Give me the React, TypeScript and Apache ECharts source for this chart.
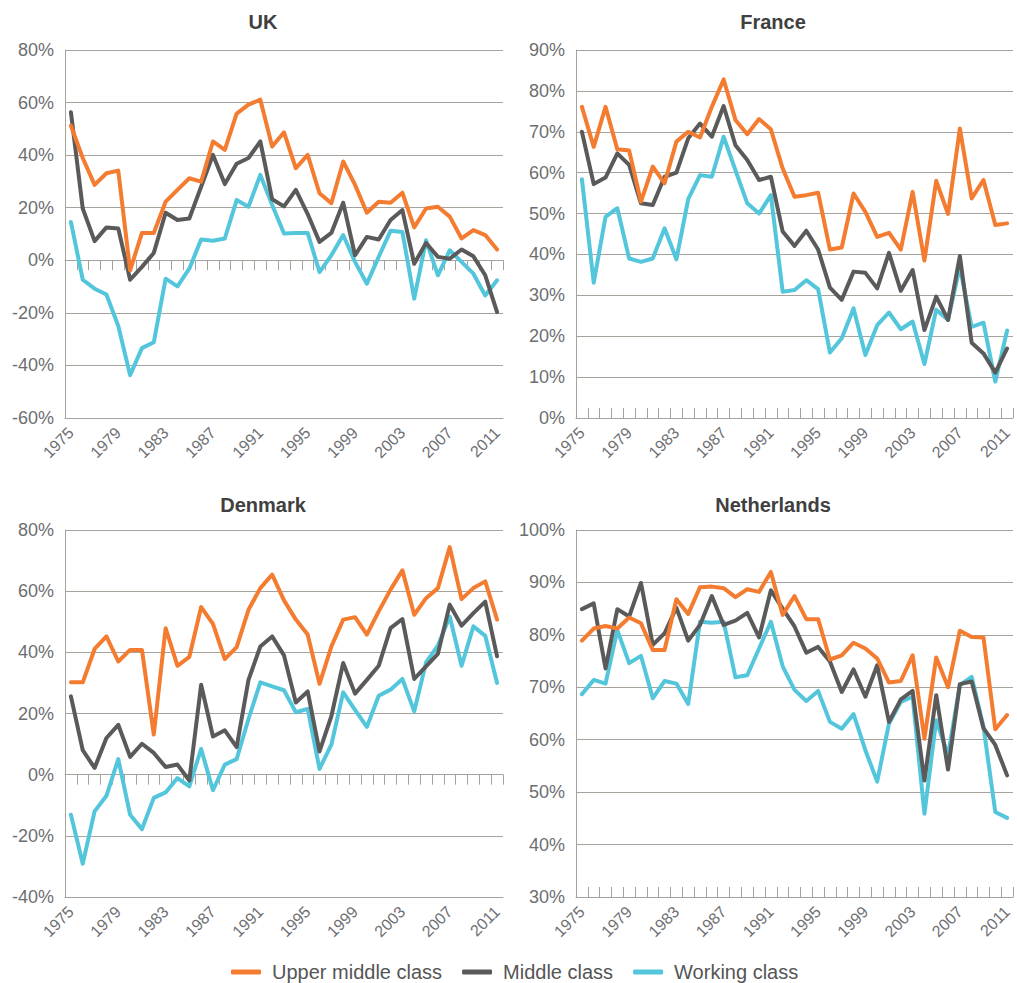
import React, { useEffect, useRef } from 'react';
import * as echarts from 'echarts';

const years = ['1975','1976','1977','1978','1979','1980','1981','1982','1983','1984','1985','1986','1987','1988','1989','1990','1991','1992','1993','1994','1995','1996','1997','1998','1999','2000','2001','2002','2003','2004','2005','2006','2007','2008','2009','2010','2011'];

const seriesNames = ['Upper middle class', 'Middle class', 'Working class'];

const ukUpper = [51.2, 38.9, 28.7, 33.1, 34.1, -3.8, 10.4, 10.4, 22.3, 26.8, 31.2, 29.9, 45.2, 42, 55.8, 59.2, 61.1, 43.3, 48.7, 35, 40.1, 25.5, 21.7, 37.6, 28.7, 18.1, 22.3, 21.9, 25.7, 12.5, 19.7, 20.4, 16.6, 8.3, 11.5, 9.6, 4.1];
const ukMiddle = [56.3, 19.7, 7.3, 12.5, 12.1, -7.4, -2.5, 2.8, 18.1, 15.3, 15.9, 28, 40.1, 29, 36.7, 38.9, 45.2, 23.2, 20.5, 26.8, 17.6, 7, 10.4, 21.9, 1.9, 8.9, 7.9, 15.3, 19.1, -1.3, 6.6, 1.3, 0.6, 4.1, 1.5, -5.7, -19.7];
const ukWorking = [14.6, -7.4, -10.8, -13, -25, -43.7, -33.4, -31.2, -7, -9.9, -3.2, 7.9, 7.4, 8.3, 22.9, 20.4, 32.5, 21, 10.2, 10.4, 10.4, -4.5, 1.9, 9.6, -0.6, -8.9, 1.3, 11.2, 10.8, -14.6, 7.6, -5.7, 3.8, -0.6, -5.1, -13.4, -7.6];

const franceUpper = [76.1, 66.3, 76.1, 65.7, 65.4, 52.9, 61.5, 57.4, 67.6, 70, 68.6, 76.1, 82.8, 72.9, 69.4, 73.1, 70.6, 61, 54.1, 54.5, 55.1, 41.2, 41.7, 54.9, 50.4, 44.3, 45.3, 41.2, 55.3, 38.5, 58, 49.9, 70.8, 53.7, 58.2, 47.2, 47.6];
const franceMiddle = [70, 57.2, 58.8, 64.7, 61.9, 52.5, 52.1, 59, 60, 68.4, 72, 68.8, 76.3, 66.7, 63.1, 58.2, 59, 45.6, 42.1, 45.8, 41.2, 31.9, 28.9, 35.8, 35.5, 31.7, 40.4, 31.1, 36.2, 21.5, 29.7, 24, 39.6, 18.4, 15.8, 11.1, 17];
const franceWorking = [58.4, 33.1, 49.2, 51.3, 39, 38.2, 39, 46.4, 38.8, 53.5, 59.4, 59, 68.8, 60.6, 52.5, 50, 54.5, 30.9, 31.3, 33.7, 31.5, 16, 19.5, 26.8, 15.4, 22.7, 25.8, 21.7, 23.6, 13.2, 26.5, 24, 37, 22.3, 23.3, 8.9, 21.4];

const denmarkUpper = [30.2, 30.2, 41.1, 45.2, 37, 40.8, 40.8, 13.1, 47.9, 35.6, 38.5, 54.8, 49.3, 37.8, 41.7, 53.9, 61, 65.4, 57, 50.7, 45.8, 29.7, 41.9, 50.7, 51.5, 45.8, 53.4, 60.5, 66.8, 52.3, 57.7, 61, 74.4, 57.4, 61, 63.2, 50.7];
const denmarkMiddle = [25.6, 8, 2.2, 12, 16.3, 5.8, 10.1, 7.1, 2.5, 3.3, -1.9, 29.4, 12.5, 14.5, 9, 31, 41.9, 45.2, 39, 23.6, 27.2, 7.6, 19.1, 36.5, 26.5, 31, 35.6, 47.9, 50.9, 31.3, 35.4, 39.5, 55.6, 48.7, 52.8, 56.6, 38.7];
const denmarkWorking = [-13.1, -29.1, -12, -6.9, 5.1, -13.1, -17.8, -7.6, -5.8, -1.1, -3.8, 8.4, -5.1, 3.3, 5.1, 18.2, 30.2, 28.9, 27.6, 20.4, 21.5, 1.9, 9.8, 26.9, 21.2, 15.6, 25.8, 27.8, 31.3, 20.7, 36.7, 42.2, 51.7, 35.6, 48.5, 45.4, 30];

const netherlandsUpper = [78.9, 81.2, 81.7, 81.2, 83.3, 82.2, 77.1, 77.1, 86.8, 84, 89.1, 89.2, 88.9, 87.2, 88.7, 88.2, 92, 83.8, 87.4, 83, 83, 75.3, 76.1, 78.5, 77.4, 75.5, 70.9, 71.2, 76.1, 60.2, 75.7, 70, 80.8, 79.6, 79.5, 62, 64.7];
const netherlandsMiddle = [84.9, 86, 73.6, 84.9, 83.5, 89.9, 78.1, 80.3, 85.2, 78.9, 81.9, 87.4, 81.9, 82.7, 84.2, 79.5, 88.5, 85, 81.6, 76.6, 77.7, 74.9, 69.1, 73.4, 68.2, 74.2, 63.4, 67.7, 69.3, 52.2, 68.5, 54.3, 70.6, 71.1, 62.2, 59, 53.2];
const netherlandsWorking = [68.7, 71.4, 70.7, 80.9, 74.6, 76, 67.9, 71.2, 70.7, 66.8, 82.5, 82.3, 82.5, 71.9, 72.3, 77.4, 82.5, 74, 69.5, 67.4, 69.3, 63.4, 62.1, 64.9, 58, 52, 63.1, 67.2, 68.2, 45.9, 63.7, 57, 70.4, 72, 62.5, 46.2, 45.1];

const colors = ['#f47c30', '#5a5a5a', '#53c6dc'];
const gridColor = '#a8a29d';
const textColor = '#6d6e71';
const fontFamily = '"Liberation Sans", Arial, sans-serif';

const panels = [
  { title: 'UK', titleX: 263, titleY: 22, box: { left: 65, top: 50, width: 438, height: 368 }, min: -60, max: 80, interval: 20, zeroTicks: true, data: [ukUpper, ukMiddle, ukWorking] },
  { title: 'France', titleX: 773, titleY: 22, box: { left: 576, top: 50, width: 437, height: 368 }, min: 0, max: 90, interval: 10, zeroTicks: false, data: [franceUpper, franceMiddle, franceWorking] },
  { title: 'Denmark', titleX: 263, titleY: 505, box: { left: 65, top: 530, width: 438, height: 367 }, min: -40, max: 80, interval: 20, zeroTicks: true, data: [denmarkUpper, denmarkMiddle, denmarkWorking] },
  { title: 'Netherlands', titleX: 773, titleY: 505, box: { left: 576, top: 530, width: 437, height: 367 }, min: 30, max: 100, interval: 10, zeroTicks: false, data: [netherlandsUpper, netherlandsMiddle, netherlandsWorking] },
];

function buildOption() {
  const grid: any[] = [];
  const xAxis: any[] = [];
  const yAxis: any[] = [];
  const series: any[] = [];
  const graphic: any[] = [];

  panels.forEach((p, g) => {
    grid.push({ ...p.box, containLabel: false });
    yAxis.push({
      gridIndex: g,
      type: 'value',
      min: p.min,
      max: p.max,
      interval: p.interval,
      axisLine: { show: true, lineStyle: { color: gridColor, width: 1 } },
      axisTick: { show: false },
      axisLabel: { formatter: '{value}%', color: textColor, fontSize: 18, fontFamily, margin: 11 },
      splitLine: { show: true, lineStyle: { color: gridColor, width: 1 } },
    });
    const labelAxisIndex = xAxis.length;
    xAxis.push({
      gridIndex: g,
      type: 'category',
      data: years,
      boundaryGap: true,
      position: 'bottom',
      axisLine: { show: true, onZero: false, lineStyle: { color: gridColor, width: 1 } },
      axisTick: { show: !p.zeroTicks, inside: true, length: 10, interval: 0, lineStyle: { color: gridColor } },
      axisLabel: { interval: 3, rotate: 45, color: textColor, fontSize: 16, fontFamily, margin: 12 },
      splitLine: { show: false },
    });
    if (p.zeroTicks) {
      xAxis.push({
        gridIndex: g,
        type: 'category',
        data: years,
        boundaryGap: true,
        position: 'top',
        axisLine: { show: true, onZero: true, lineStyle: { color: gridColor, width: 1 } },
        axisTick: { show: true, inside: true, length: 10, interval: 0, lineStyle: { color: gridColor } },
        axisLabel: { show: false },
        splitLine: { show: false },
      });
    }
    // draw working class first, upper middle class last (on top)
    [2, 1, 0].forEach((k) => {
      series.push({
        type: 'line',
        name: seriesNames[k],
        xAxisIndex: labelAxisIndex,
        yAxisIndex: g,
        data: p.data[k],
        showSymbol: false,
        symbol: 'none',
        lineStyle: { width: 4, color: colors[k], cap: 'round', join: 'round' },
        itemStyle: { color: colors[k] },
        emphasis: { disabled: true },
      });
    });
    graphic.push({
      type: 'text',
      x: p.titleX,
      y: p.titleY,
      style: {
        text: p.title,
        align: 'center',
        verticalAlign: 'middle',
        fontSize: 20,
        fontWeight: 'bold',
        fontFamily,
        fill: '#404040',
      },
    });
  });

  return {
    animation: false,
    backgroundColor: '#ffffff',
    grid,
    xAxis,
    yAxis,
    series,
    graphic,
    legend: {
      data: seriesNames,
      left: 226,
      top: 957,
      icon: 'roundRect',
      itemWidth: 30,
      itemHeight: 5,
      itemGap: 20,
      textStyle: { fontSize: 20, color: '#555555', fontFamily, padding: [0, 0, 0, 6] },
    },
  };
}

export default function App() {
  const ref = useRef<HTMLDivElement>(null);
  useEffect(() => {
    document.body.style.margin = '0';
    if (!ref.current) return;
    const chart = echarts.init(ref.current, null, { renderer: 'svg' });
    chart.setOption(buildOption() as any);
    return () => chart.dispose();
  }, []);
  return <div ref={ref} style={{ width: 1017, height: 983 }} />;
}
